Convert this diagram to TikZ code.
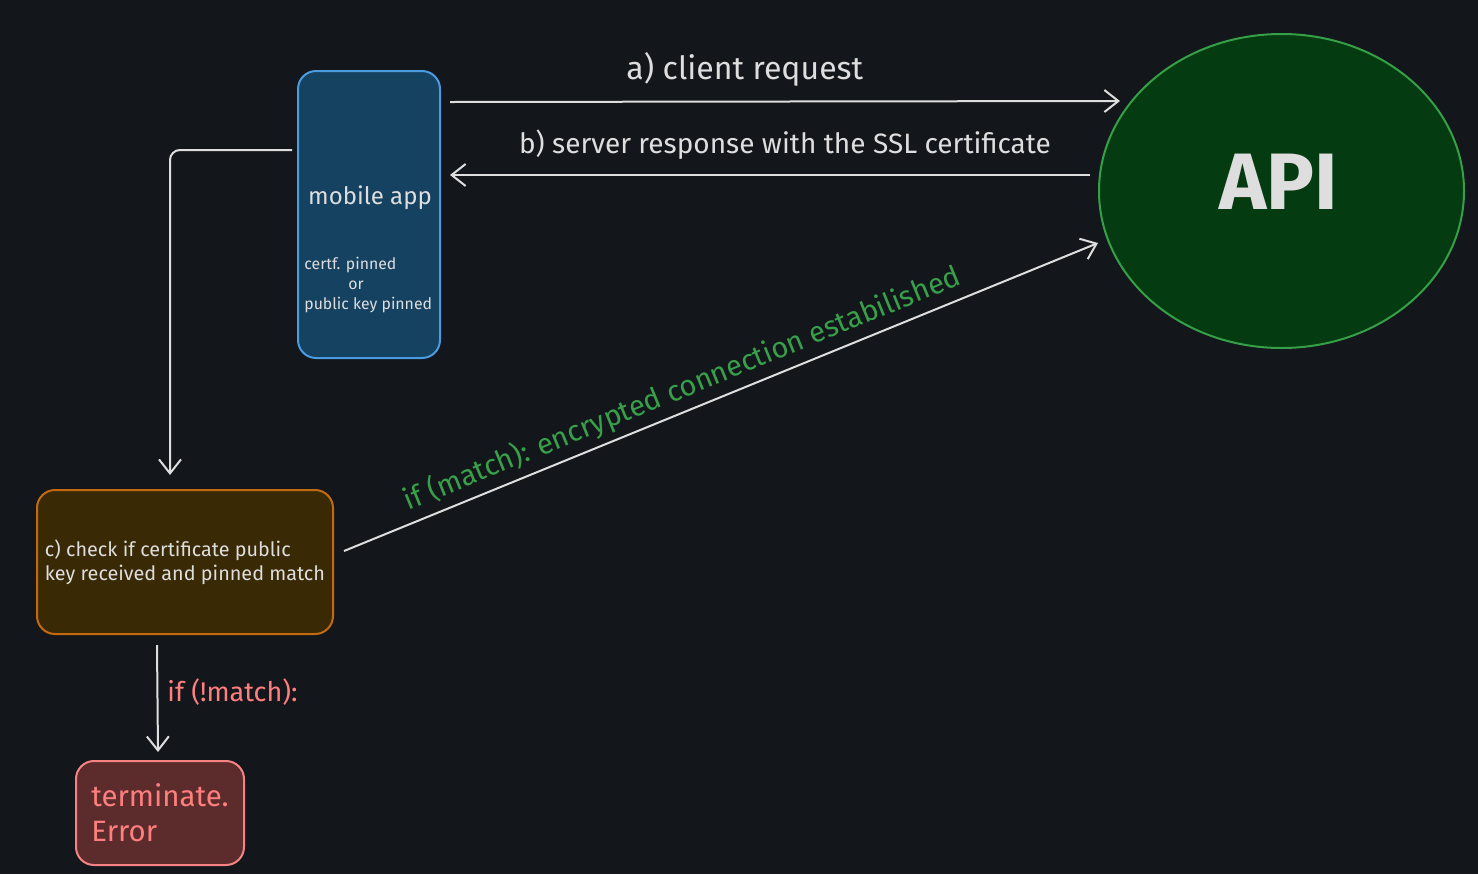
\documentclass[tikz,border=0pt]{standalone}
\usepackage{fontspec}
\setmainfont{Fira Sans}
\usetikzlibrary{arrows.meta,positioning,shapes.geometric}
\definecolor{PinBack}{HTML}{13161B}
\definecolor{PinInk}{HTML}{DEDEDE}
\definecolor{AppFill}{HTML}{164262}
\definecolor{AppLine}{HTML}{4A9BE0}
\definecolor{CheckFill}{HTML}{392905}
\definecolor{CheckLine}{HTML}{C46A0E}
\definecolor{ErrFill}{HTML}{5C2C2D}
\definecolor{ErrLine}{HTML}{F58383}
\definecolor{ApiFill}{HTML}{053B10}
\definecolor{ApiLine}{HTML}{35A047}
\definecolor{GoodInk}{HTML}{38A04A}
\definecolor{BadInk}{HTML}{FF7E7E}
\tikzset{>={Straight Barb[length=7pt,width=11pt]},
 flow/.style={draw=PinInk,line width=1pt,->},
 appbox/.style={draw=AppLine,fill=AppFill,line width=1pt,rounded corners=9pt,
 minimum width=71pt,minimum height=143.5pt},
 checkbox/.style={draw=CheckLine,fill=CheckFill,line width=1pt,rounded corners=9pt,
 minimum width=148pt,minimum height=72pt,align=left,text=PinInk,
 font=\fontsize{9.9}{12}\selectfont},
 errbox/.style={draw=ErrLine,fill=ErrFill,line width=1pt,rounded corners=9pt,
 minimum width=84pt,minimum height=52pt,align=left,text=BadInk,
 font=\fontsize{14.7}{17.5}\selectfont},
 apibox/.style={ellipse,draw=ApiLine,fill=ApiFill,line width=1pt,
 minimum width=182.5pt,minimum height=157pt,inner sep=0pt},
 msg/.style={text=PinInk,inner sep=0pt,font=\fontsize{16}{18}\selectfont},
 goodmsg/.style={text=GoodInk,inner sep=0pt,font=\fontsize{14.5}{16}\selectfont},
 badmsg/.style={text=BadInk,inner sep=0pt,font=\fontsize{13.5}{15}\selectfont}}
\begin{document}
\begin{tikzpicture}[x=0.5pt,y=-0.5pt]
\fill[PinBack] (0,0) rectangle (1478,874);
% boxes
\node[appbox] (app) at (369,214.5) {};
\node[msg,font=\fontsize{12}{14}\selectfont] (title) at (370,198) {mobile app};
\node[msg,anchor=west,align=left,font=\fontsize{7.9}{10}\selectfont] (pins)
 at ([shift={(7,70.5)}]app.west) {certf. pinned\\\hspace*{22pt}or\\public key pinned};
\node[apibox] (api) at (1281.5,191) {};
\node[msg,font=\fontsize{40}{44}\bfseries\selectfont] (apiname) at (1279,182) {API};
\node[checkbox] (check) at (185,562) {c) check if certificate public\\key received and pinned match};
\node[errbox] (err) at (160,813) {terminate.\\Error};
% arrows
\draw[flow] ([shift={(9,32)}]app.north east) -- ([shift={(22,-90)}]api.west)
 node[msg,above=7pt,pos=0.44] {a) client request};
\draw[flow,shorten >=4.5pt] ([shift={(-8,-16)}]api.west) coordinate (b0) -- (b0 -| app.east)
 node[msg,above=7.5pt,pos=0.47,font=\fontsize{14}{16}\selectfont] {b) server response with the SSL certificate};
\draw[flow,rounded corners=5pt] ([shift={(-5,-64.5)}]app.west) -| ([shift={(-15,-14)}]check.north);
\draw[flow] ([shift={(10,-11)}]check.east) -- ([shift={(0,52)}]api.west)
 node[goodmsg,sloped,above=3pt,pos=0.46] {if (match): encrypted connection estabilished};
\draw[flow] ([shift={(-28,10)}]check.south) -- ([shift={(-2,-8)}]err.north)
 node[badmsg,right=4.5pt,pos=0.44] {if (!match):};
\end{tikzpicture}
\end{document}
